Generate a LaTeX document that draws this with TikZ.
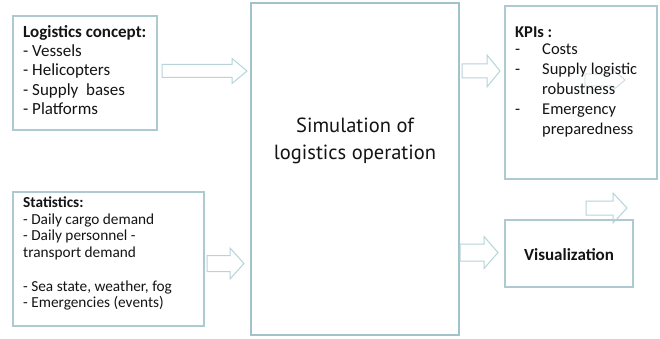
\documentclass[tikz,border=0pt]{standalone}
\usepackage{fontspec}
\setmainfont{Carlito}
\newfontfamily\simfont{PT Sans}
\definecolor{boxcol}{RGB}{172,202,207}
\definecolor{maincol}{RGB}{160,194,200}
\definecolor{arrcol}{RGB}{182,212,217}
\definecolor{faintcol}{RGB}{200,224,228}
\definecolor{txtcol}{RGB}{20,20,20}
\newcommand\blockarr[7][arr]{%
  \draw[#1] ({#2},{#5-#6}) -- ({#3},{#5-#6}) -- ({#3},{#5-#7}) -- ({#4},{#5})
    -- ({#3},{#5+#7}) -- ({#3},{#5+#6}) -- ({#2},{#5+#6}) -- cycle;}
\begin{document}
\begin{tikzpicture}[x=1pt,y=-1pt,
  box/.style={draw=boxcol, line width=1.1pt, inner sep=0pt},
  mainbox/.style={draw=maincol, line width=1.3pt, inner sep=0pt},
  arr/.style={draw=arrcol, line width=1pt, line join=miter},
  faintarr/.style={draw=faintcol, line width=0.9pt},
  big/.style={anchor=base west, inner sep=0pt, text=txtcol, font=\fontsize{17}{20}\selectfont},
  small/.style={anchor=base west, inner sep=0pt, text=txtcol, font=\fontsize{15.3}{18}\selectfont},
  kpi/.style={anchor=base west, inner sep=0pt, text=txtcol, font=\fontsize{16.5}{19}\selectfont},
  simtxt/.style={anchor=base, inner sep=0pt, text=txtcol, font=\simfont\fontsize{20.5}{24}\selectfont}]
\useasboundingbox (0,0) rectangle (660,339);
\fill[white] (0,0) rectangle (660,339);

% boxes
\node[box, minimum width=144pt, minimum height=114pt] (logbox) at (85,73) {};
\node[box, minimum width=191pt, minimum height=134pt] (statbox) at (108.5,259) {};
\node[mainbox, minimum width=208pt, minimum height=332pt] (simbox) at (355,169) {};
\node[box, minimum width=152pt, minimum height=173pt] (kpibox) at (581,92.5) {};
\node[box, minimum width=128pt, minimum height=67pt] (visbox) at (569,253.5) {};

% block arrows
\blockarr{162}{232}{247}{71}{6.5}{12.5}
\blockarr{207}{230}{244}{263.5}{8}{15.5}
\blockarr{462}{487}{500}{71}{7}{16}
\blockarr{460}{484}{498}{252.5}{8.5}{16}
\blockarr{586}{613}{627}{208}{7}{15}
\blockarr[faintarr]{585}{612}{625}{80}{6}{11}

% logistics concept
\node[big] (l1) at (23,37.5) {\textbf{Logistics concept:}};
\node[big] (l2) at (23,56.7) {- Vessels};
\node[big] (l3) at (23,75.9) {- Helicopters};
\node[big] (l4) at (23,95.1) {- Supply\ \ bases};
\node[big] (l5) at (23,114.3) {- Platforms};

% statistics
\node[small] (s1) at (23,207.5) {\textbf{Statistics:}};
\node[small] (s2) at (23,224.2) {- Daily cargo demand};
\node[small] (s3) at (23,240.9) {- Daily personnel -};
\node[small] (s4) at (23,257.6) {transport demand};
\node[small] (s5) at (23,291) {- Sea state, weather, fog};
\node[small] (s6) at (23,307.7) {- Emergencies (events)};

% simulation
\node[simtxt] (sim1) at (355,133) {Simulation of};
\node[simtxt] (sim2) at (355,159) {logistics operation};

% KPIs
\node[kpi] (k0) at (515,37.3) {\textbf{KPIs :}};
\node[kpi] (kd1) at (515,55) {-};
\node[kpi] (k1) at (542,55) {Costs};
\node[kpi] (kd2) at (515,75) {-};
\node[kpi] (k2) at (542,75) {Supply logistic};
\node[kpi] (k3) at (542,95) {robustness};
\node[kpi] (kd3) at (515,115) {-};
\node[kpi] (k4) at (542,115) {Emergency};
\node[kpi] (k5) at (542,135) {preparedness};

% visualization
\node[anchor=base, inner sep=0pt, text=txtcol, font=\fontsize{17}{20}\selectfont\bfseries] (vis) at (569,260) {Visualization};
\end{tikzpicture}
\end{document}
